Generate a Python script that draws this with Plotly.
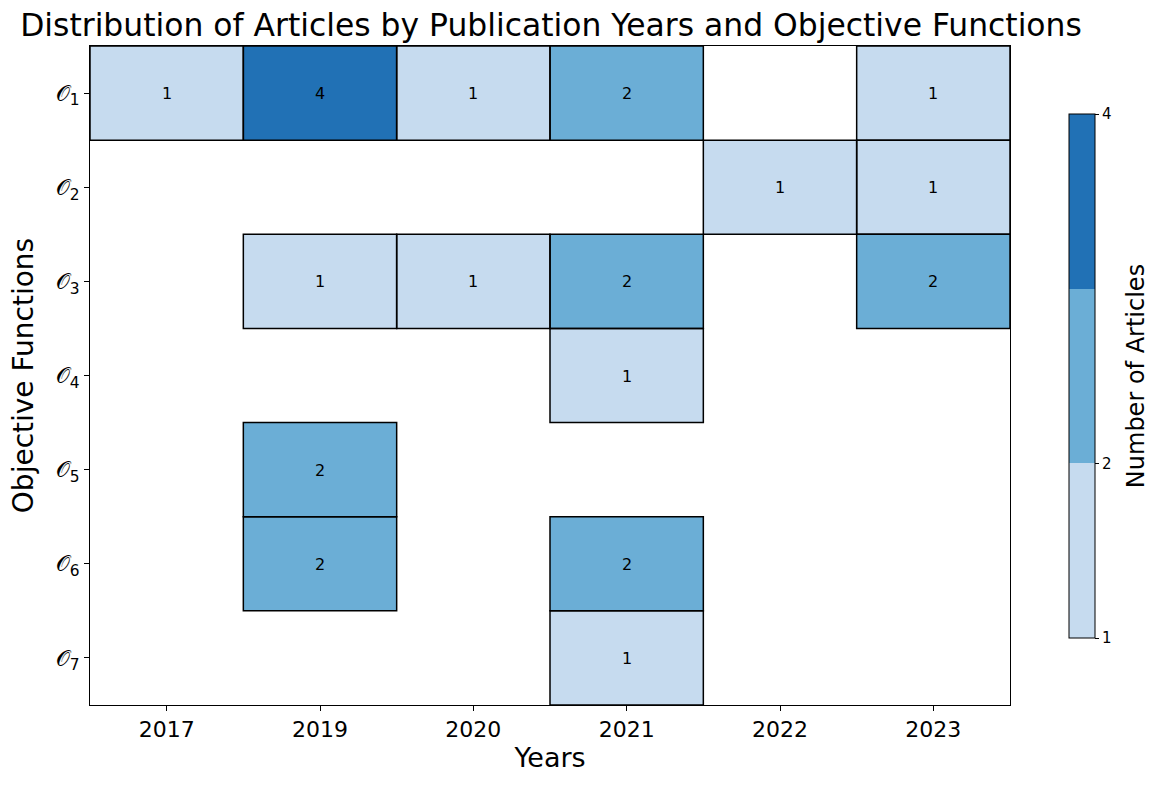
import numpy as np
import plotly.graph_objects as go

years = ["2017", "2019", "2020", "2021", "2022", "2023"]
objectives = ["𝒪<sub>1</sub>", "𝒪<sub>2</sub>", "𝒪<sub>3</sub>", "𝒪<sub>4</sub>",
              "𝒪<sub>5</sub>", "𝒪<sub>6</sub>", "𝒪<sub>7</sub>"]
nan = np.nan
counts = [
    [1, 4, 1, 2, nan, 1],
    [nan, nan, nan, nan, 1, 1],
    [nan, 1, 1, 2, nan, 2],
    [nan, nan, nan, 1, nan, nan],
    [nan, 2, nan, nan, nan, nan],
    [nan, 2, nan, 2, nan, nan],
    [nan, nan, nan, 1, nan, nan],
]
cbar_ticks = [1, 2, 4]

z = np.array(counts, dtype=float)
xi = list(range(len(years)))
yi = list(range(len(objectives)))
text = [["" if np.isnan(v) else str(int(v)) for v in row] for row in z]

cs = [[0, "#c6dbef"], [1/3, "#c6dbef"], [1/3, "#6baed6"], [2/3, "#6baed6"],
      [2/3, "#2171b5"], [1, "#2171b5"]]

fig = go.Figure()
fig.add_trace(go.Heatmap(
    z=z, x=xi, y=yi, zmin=1, zmax=4, colorscale=cs,
    text=text, texttemplate="%{text}", textfont=dict(size=16, color="black"),
    hoverongaps=False,
    colorbar=dict(
        x=1.064, xanchor="left", y=0.499, yanchor="middle", len=0.795,
        lenmode="fraction", thickness=26, outlinecolor="black", outlinewidth=1,
        xpad=0, ypad=0,
        tickvals=cbar_ticks, ticks="outside", ticklen=4, tickcolor="black",
        tickfont=dict(size=15, color="black"),
    ),
))

shapes = []
for i in yi:
    for j in xi:
        if not np.isnan(z[i, j]):
            shapes.append(dict(type="rect", xref="x", yref="y",
                               x0=j - 0.5, x1=j + 0.5, y0=i - 0.5, y1=i + 0.5,
                               line=dict(color="black", width=1.5),
                               fillcolor="rgba(0,0,0,0)"))

fig.update_layout(
    width=1162, height=788,
    margin=dict(l=90, r=152, t=46, b=83),
    paper_bgcolor="white", plot_bgcolor="white",
    font=dict(family="DejaVu Sans", color="black"),
    title=dict(text="Distribution of Articles by Publication Years and Objective Functions",
               x=551/1162, xanchor="center", y=1 - 25/788, yanchor="middle",
               font=dict(size=31.4, color="black")),
    shapes=shapes,
    annotations=[dict(text="Number of Articles", xref="paper", yref="paper",
                      x=(1136 - 90) / 920, y=0.499, xanchor="center", yanchor="middle",
                      textangle=-90, showarrow=False, font=dict(size=24, color="black"))],
)
fig.update_xaxes(
    tickvals=xi, ticktext=years, range=[-0.5, len(years) - 0.5], automargin=False,
    showgrid=False, zeroline=False, showline=True, linecolor="black", linewidth=1,
    mirror=True, ticks="outside", ticklen=5, tickcolor="black",
    tickfont=dict(size=22), title=dict(text="Years", font=dict(size=27), standoff=6),
)
fig.update_yaxes(
    tickvals=yi, ticktext=objectives, range=[len(objectives) - 0.5, -0.5], automargin=False,
    showgrid=False, zeroline=False, showline=True, linecolor="black", linewidth=1,
    mirror=True, ticks="outside", ticklen=5, tickcolor="black",
    tickfont=dict(size=22), title=dict(text="Objective Functions", font=dict(size=28), standoff=14),
)

fig.write_html("out.html", config={"displayModeBar": False},
               post_script="document.body.style.margin='0px';")
